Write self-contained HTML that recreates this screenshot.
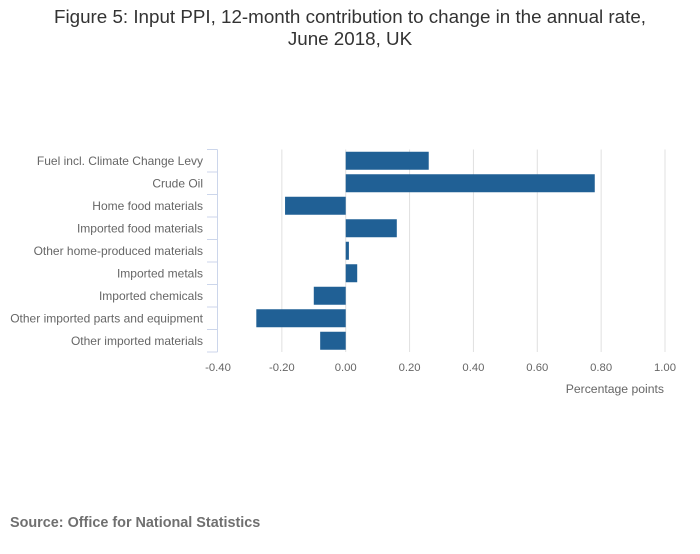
<!DOCTYPE html>
<html><head><meta charset="utf-8"><style>
body{margin:0;background:#fff;font-family:"Liberation Sans",sans-serif}
</style></head><body>
<svg width="700" height="549" xmlns="http://www.w3.org/2000/svg">
<text x="350" y="23" text-anchor="middle" font-size="18.8" fill="#333">Figure 5: Input PPI, 12-month contribution to change in the annual rate,</text>
<text x="350" y="45" text-anchor="middle" font-size="18.8" fill="#333">June 2018, UK</text>
<g id="grid"></g><g id="bars"></g><g id="cats"></g><g id="xt"></g>
<text x="664" y="393" text-anchor="end" font-size="12.2" fill="#666">Percentage points</text>
<text x="10" y="527" font-size="14.4" font-weight="bold" fill="#707070">Source: Office for National Statistics</text>
</svg>
<script>
const categories=["Fuel incl. Climate Change Levy","Crude Oil","Home food materials","Imported food materials","Other home-produced materials","Imported metals","Imported chemicals","Other imported parts and equipment","Other imported materials"];
const values=[0.26,0.78,-0.19,0.16,0.01,0.036,-0.10,-0.28,-0.08];
const ticks=[-0.4,-0.2,0,0.2,0.4,0.6,0.8,1.0];
const tickLabels=["-0.40","-0.20","0.00","0.20","0.40","0.60","0.80","1.00"];
const ns="http://www.w3.org/2000/svg";
const x0=-0.4,x1=1.0,L=218,R=665,T=149.5,B=352;
const xs=v=>L+(v-x0)/(x1-x0)*(R-L);
const step=(B-T)/categories.length;
function mk(t,a,p){const e=document.createElementNS(ns,t);for(const k in a)e.setAttribute(k,a[k]);document.getElementById(p).appendChild(e);return e;}
ticks.forEach((v,i)=>{
 if(i>0){const g=mk('line',{x1:xs(v),x2:xs(v),y1:T,y2:B,stroke:'#e0e0e0'},'grid');
 
 }
 const t=mk('text',{x:xs(v),y:371,'text-anchor':'middle','font-size':11.3,fill:'#666'},'xt');t.textContent=tickLabels[i];
 
 
});
const ax=mk('line',{x1:217.5,x2:217.5,y1:T,y2:B,stroke:'#ccd6eb'},'cats');


for(let i=0;i<=categories.length;i++){const tk=mk('line',{x1:207,x2:217.5,y1:T+i*step,y2:T+i*step,stroke:'#ccd6eb'},'cats');
 
 }
categories.forEach((c,i)=>{
 const cy=T+(i+0.5)*step;
 const t=mk('text',{x:203,y:cy+4,'text-anchor':'end','font-size':12,fill:'#666'},'cats');t.textContent=c;
 
 
 const v=values[i],a=xs(0),b=xs(v);
 const r=mk('rect',{x:Math.min(a,b),y:cy-9,width:Math.abs(b-a),height:18,fill:'#206095'},'bars');
 
 
});
</script>
</body></html>
